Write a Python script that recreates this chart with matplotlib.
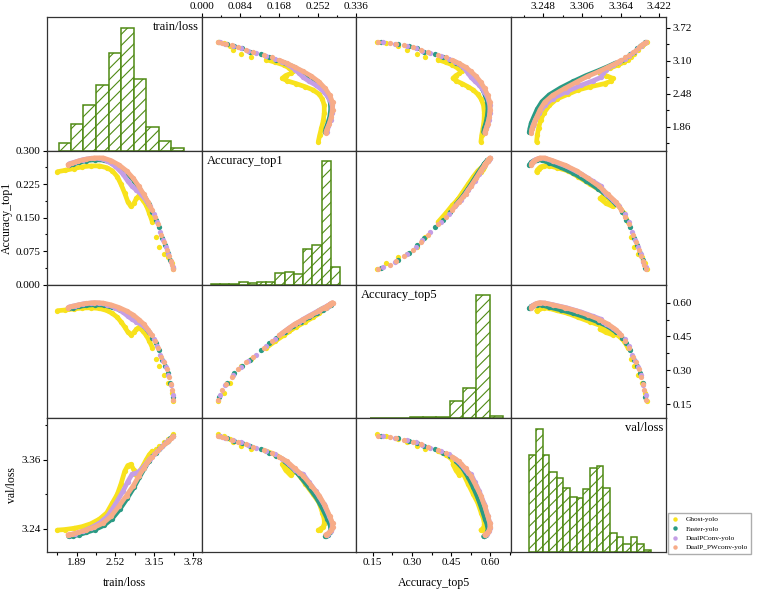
import numpy as np
import matplotlib
matplotlib.use('Agg')
import matplotlib.pyplot as plt
from matplotlib.lines import Line2D
from matplotlib.ticker import FixedLocator, FormatStrFormatter

plt.rcParams['font.family'] = ['Liberation Serif', 'DejaVu Serif']
plt.rcParams['hatch.linewidth'] = 0.8

names = ['train/loss', 'Accuracy_top1', 'Accuracy_top5', 'val/loss']
models = ['Ghost-yolo', 'Faster-yolo', 'DualPConv-yolo', 'DualP_PWconv-yolo']
colors = ['#f8e21c', '#2a9a84', '#c49ee6', '#f7ac88']

# per-epoch values (early epochs first)
ghost_train_loss = [3.46, 3.43, 3.38, 3.30, 3.22, 3.17, 3.12, 3.07, 3.02, 2.96, 2.90, 2.86, 2.82,
                    2.77, 2.72, 2.67, 2.61, 2.55, 2.47, 2.38, 2.26, 2.12, 1.98, 1.84, 1.70, 1.58]
ghost_acc1 = [0.035, 0.048, 0.062, 0.068, 0.085, 0.107, 0.140, 0.160, 0.178, 0.190, 0.199, 0.193, 0.182,
              0.175, 0.186, 0.205, 0.225, 0.242, 0.255, 0.262, 0.266, 0.266, 0.264, 0.260, 0.256, 0.253]
ghost_acc5 = [0.165, 0.200, 0.245, 0.280, 0.320, 0.350, 0.400, 0.430, 0.455, 0.475, 0.490, 0.482, 0.468,
              0.457, 0.470, 0.492, 0.515, 0.535, 0.552, 0.565, 0.574, 0.577, 0.576, 0.572, 0.567, 0.564]
ghost_val_loss = [3.404, 3.401, 3.396, 3.390, 3.384, 3.379, 3.375, 3.369, 3.360, 3.348, 3.338, 3.333, 3.342,
                  3.352, 3.350, 3.340, 3.318, 3.300, 3.285, 3.268, 3.257, 3.249, 3.244, 3.241, 3.239, 3.238]

faster_train_loss = [3.45, 3.41, 3.37, 3.33, 3.27, 3.22, 3.17, 3.12, 3.06, 2.99, 2.91, 2.82, 2.71,
                     2.59, 2.46, 2.33, 2.19, 2.05, 1.93, 1.83, 1.76]
faster_acc1 = [0.038, 0.055, 0.070, 0.088, 0.105, 0.128, 0.145, 0.162, 0.180, 0.198, 0.215, 0.233, 0.250,
               0.263, 0.273, 0.279, 0.280, 0.278, 0.274, 0.270, 0.268]
faster_acc5 = [0.180, 0.245, 0.290, 0.320, 0.345, 0.390, 0.420, 0.445, 0.470, 0.495, 0.515, 0.535, 0.553,
               0.568, 0.580, 0.589, 0.591, 0.588, 0.583, 0.577, 0.574]
faster_val_loss = [3.401, 3.397, 3.393, 3.389, 3.384, 3.378, 3.372, 3.366, 3.357, 3.345, 3.330, 3.312, 3.293,
                   3.274, 3.257, 3.246, 3.239, 3.234, 3.230, 3.228, 3.227]

dualp_train_loss = [3.45, 3.42, 3.38, 3.34, 3.29, 3.24, 3.19, 3.14, 3.08, 3.01, 2.93, 2.86, 2.79,
                    2.72, 2.64, 2.52, 2.39, 2.26, 2.12, 1.99, 1.87, 1.77]
dualp_acc1 = [0.040, 0.050, 0.068, 0.085, 0.100, 0.118, 0.140, 0.158, 0.175, 0.190, 0.203, 0.212, 0.220,
              0.232, 0.248, 0.265, 0.277, 0.283, 0.283, 0.280, 0.275, 0.271]
dualp_acc5 = [0.190, 0.235, 0.280, 0.315, 0.340, 0.370, 0.410, 0.440, 0.465, 0.488, 0.505, 0.515, 0.526,
              0.540, 0.558, 0.577, 0.591, 0.598, 0.598, 0.594, 0.587, 0.581]
dualp_val_loss = [3.402, 3.398, 3.394, 3.390, 3.386, 3.381, 3.376, 3.370, 3.362, 3.352, 3.342, 3.337, 3.335,
                  3.322, 3.305, 3.283, 3.262, 3.250, 3.242, 3.236, 3.232, 3.230]

pw_train_loss = [3.46, 3.44, 3.42, 3.39, 3.36, 3.31, 3.26, 3.21, 3.16, 3.11, 3.05, 2.98, 2.90,
                 2.81, 2.70, 2.58, 2.45, 2.32, 2.18, 2.04, 1.92, 1.82, 1.75]
pw_acc1 = [0.035, 0.043, 0.052, 0.065, 0.078, 0.095, 0.112, 0.135, 0.152, 0.168, 0.185, 0.202, 0.220,
           0.238, 0.255, 0.268, 0.278, 0.284, 0.284, 0.281, 0.277, 0.272, 0.269]
pw_acc5 = [0.170, 0.215, 0.240, 0.270, 0.305, 0.335, 0.360, 0.400, 0.430, 0.455, 0.480, 0.505, 0.525,
           0.545, 0.563, 0.578, 0.590, 0.598, 0.600, 0.596, 0.590, 0.583, 0.578]
pw_val_loss = [3.402, 3.399, 3.397, 3.394, 3.391, 3.387, 3.382, 3.377, 3.371, 3.365, 3.357, 3.345, 3.332,
               3.315, 3.298, 3.280, 3.262, 3.250, 3.243, 3.238, 3.234, 3.231, 3.230]

series = [
    [ghost_train_loss, ghost_acc1, ghost_acc5, ghost_val_loss],
    [faster_train_loss, faster_acc1, faster_acc5, faster_val_loss],
    [dualp_train_loss, dualp_acc1, dualp_acc5, dualp_val_loss],
    [pw_train_loss, pw_acc1, pw_acc5, pw_val_loss],
]
n_sparse = [7, 9, 9, 10]  # early epochs drawn as separate dots

# histograms on the diagonal (bin edges + counts)
train_loss_edges = [1.60, 1.80, 2.00, 2.21, 2.41, 2.61, 2.82, 3.02, 3.22, 3.42, 3.63]
train_loss_counts = [23, 80, 137, 196, 291, 368, 215, 70, 30, 8]
acc1_edges = [0.020, 0.040, 0.060, 0.080, 0.100, 0.120, 0.140, 0.160, 0.180, 0.200,
              0.220, 0.240, 0.261, 0.281, 0.301]
acc1_counts = [2, 2, 2, 8, 5, 6, 8, 34, 38, 32, 105, 118, 369, 52]
acc5_edges = [0.138, 0.189, 0.240, 0.291, 0.342, 0.393, 0.444, 0.496, 0.547, 0.598, 0.649]
acc5_counts = [1, 1, 2, 4, 3, 4, 50, 90, 366, 6]
val_loss_edges = [3.227, 3.237, 3.247, 3.257, 3.268, 3.278, 3.288, 3.298, 3.308, 3.318,
                  3.328, 3.338, 3.348, 3.358, 3.368, 3.379, 3.389, 3.399, 3.409]
val_loss_counts = [290, 367, 290, 238, 222, 190, 163, 160, 187, 250, 257, 190, 58, 46, 25, 45, 25, 7]
hist_edges = [train_loss_edges, acc1_edges, acc5_edges, val_loss_edges]
hist_counts = [train_loss_counts, acc1_counts, acc5_counts, val_loss_counts]

# axis ranges (row = y use, col = x use)
row_lims = [(1.41, 3.92), (0.0, 0.30), (0.088, 0.68), (3.20, 3.432)]
col_lims = [(1.41, 3.92), (0.0, 0.336), (0.088, 0.68), (3.20, 3.432)]

# tick labels
tl_ticks = [1.89, 2.52, 3.15, 3.78]
tl_minor = [1.575, 2.205, 2.835, 3.465]
tl_right_ticks = [1.86, 2.48, 3.10, 3.72]
tl_right_minor = [1.55, 2.17, 2.79, 3.41]
a1_top_ticks = [0.0, 0.084, 0.168, 0.252, 0.336]
a1_top_minor = [0.042, 0.126, 0.210, 0.294]
a1_left_ticks = [0.0, 0.075, 0.150, 0.225, 0.300]
a1_left_minor = [0.0375, 0.1125, 0.1875, 0.2625]
a5_ticks = [0.15, 0.30, 0.45, 0.60]
a5_minor = [0.225, 0.375, 0.525, 0.675]
vl_top_ticks = [3.248, 3.306, 3.364, 3.422]
vl_top_minor = [3.219, 3.277, 3.335, 3.393]
vl_left_ticks = [3.24, 3.36]
vl_left_minor = [3.30, 3.42]

green = '#4f8a14'
fig = plt.figure(figsize=(7.58, 5.90), dpi=100)
gs = fig.add_gridspec(4, 4, left=47/758, right=666/758, top=1-17/590, bottom=1-552/590,
                      wspace=0, hspace=0)
axes = [[fig.add_subplot(gs[i, j]) for j in range(4)] for i in range(4)]

for i in range(4):
    for j in range(4):
        ax = axes[i][j]
        ax.tick_params(which='both', bottom=False, left=False, top=False, right=False,
                       labelbottom=False, labelleft=False, direction='out',
                       labelsize=8, pad=1.5)
        ax.tick_params(which='major', length=3, width=0.8)
        ax.tick_params(which='minor', length=1.8, width=0.8)
        for s in ax.spines.values():
            s.set_color('#333333')
            s.set_linewidth(0.9)
        if i == j:
            e = np.array(hist_edges[i])
            ax.bar(e[:-1], hist_counts[i], width=np.diff(e), align='edge', color='white',
                   edgecolor=green, hatch='///', lw=1.1)
            ax.set_xlim(col_lims[i])
            ax.set_ylim(0, max(hist_counts[i]) / 0.92)
        else:
            for k in range(4):
                x = series[k][j]
                y = series[k][i]
                ns = n_sparse[k]
                ax.plot(x[ns - 1:], y[ns - 1:], '-', color=colors[k], lw=3.4,
                        solid_capstyle='round', solid_joinstyle='round')
                ax.plot(x, y, 'o', color=colors[k], ms=3.8, mec='none')
            ax.set_xlim(col_lims[j])
            ax.set_ylim(row_lims[i])


def set_ticks(axis, major, minor, fmt):
    axis.set_major_locator(FixedLocator(major))
    axis.set_minor_locator(FixedLocator(minor))
    axis.set_major_formatter(FormatStrFormatter(fmt))


ax = axes[3][0]
set_ticks(ax.xaxis, tl_ticks, tl_minor, '%.2f')
set_ticks(ax.yaxis, vl_left_ticks, vl_left_minor, '%.2f')
ax.tick_params(which='both', bottom=True, labelbottom=True, left=True, labelleft=True)

ax = axes[3][2]
set_ticks(ax.xaxis, a5_ticks, a5_minor, '%.2f')
ax.tick_params(which='both', bottom=True, labelbottom=True)

ax = axes[0][1]
set_ticks(ax.xaxis, a1_top_ticks, a1_top_minor, '%.3f')
ax.tick_params(which='both', top=True, labeltop=True)

ax = axes[0][3]
set_ticks(ax.xaxis, vl_top_ticks, vl_top_minor, '%.3f')
set_ticks(ax.yaxis, tl_right_ticks, tl_right_minor, '%.2f')
ax.tick_params(which='both', top=True, labeltop=True, right=True, labelright=True)

ax = axes[1][0]
set_ticks(ax.yaxis, a1_left_ticks, a1_left_minor, '%.3f')
ax.tick_params(which='both', left=True, labelleft=True)

ax = axes[2][3]
set_ticks(ax.yaxis, a5_ticks, a5_minor[:3], '%.2f')
ax.tick_params(which='both', right=True, labelright=True)

# variable names inside the diagonal panels
axes[0][0].text(0.98, 0.97, names[0], transform=axes[0][0].transAxes, ha='right', va='top', fontsize=9)
axes[1][1].text(0.03, 0.97, names[1], transform=axes[1][1].transAxes, ha='left', va='top', fontsize=9)
axes[2][2].text(0.03, 0.97, names[2], transform=axes[2][2].transAxes, ha='left', va='top', fontsize=9)
axes[3][3].text(0.98, 0.97, names[3], transform=axes[3][3].transAxes, ha='right', va='top', fontsize=9)

fig.text(7/758, 1-218/590, names[1], rotation=90, ha='center', va='center', fontsize=8.5)
fig.text(12/758, 1-485/590, names[3], rotation=90, ha='center', va='center', fontsize=8.5)
fig.text(124/758, 1-583/590, names[0], ha='center', va='center', fontsize=8.5)
fig.text(434/758, 1-583/590, names[2], ha='center', va='center', fontsize=8.5)

handles = [Line2D([], [], ls='none', marker='o', ms=3.2, color=c, mec='none') for c in colors]
fig.legend(handles, models, loc='lower left', bbox_to_anchor=(668/758, 1-554/590),
           fontsize=5.2, frameon=True, fancybox=False, edgecolor='#999999',
           handlelength=1.0, handletextpad=0.9, labelspacing=0.45, borderpad=0.5,
           borderaxespad=0)

fig.savefig('out.png', dpi=100)
